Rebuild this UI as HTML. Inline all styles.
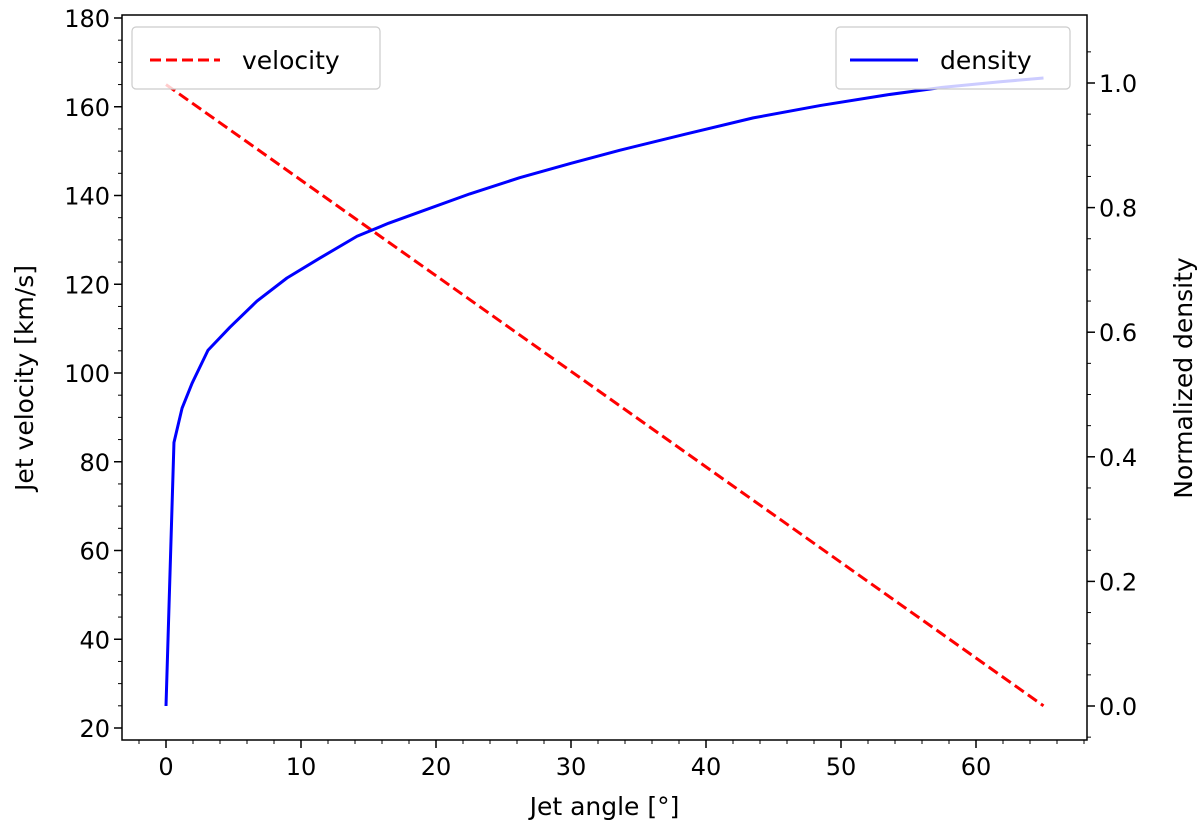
<!DOCTYPE html>
<html><head><meta charset="utf-8"><style>
html,body{margin:0;padding:0;background:#fff;}
svg{display:block;font-family:"DejaVu Sans","Liberation Sans",sans-serif;}
</style></head><body>
<svg id="chart" width="1200" height="830" viewBox="0 0 1200 830">
<g id="marks"></g>
<g id="axes"></g>
</svg>
<script>
const xTicks = [0,10,20,30,40,50,60];
const yLeftTicks = [20,40,60,80,100,120,140,160,180];
const yRightTicks = [0.0,0.2,0.4,0.6,0.8,1.0];
const velAngles = [0,65];
const velValues = [165,25];
const denAngles = [0,0.59,1.19,1.93,3.11,4.74,6.74,8.96,11.4,14.15,16.5,18.8,22.5,26.2,30,33.6,38.5,43.5,48.5,53.4,57.5,61.8,65];
const denValues = [0,0.423,0.478,0.518,0.571,0.608,0.650,0.687,0.719,0.754,0.775,0.793,0.822,0.848,0.871,0.892,0.918,0.944,0.964,0.981,0.993,1.002,1.008];

const L=122,R=1087,T=15,B=740;
const xs=v=>166+v*13.5;
const yl=v=>728-(v-20)*(728-18)/160;
const yr=v=>706-v*(706-83);
const NS="http://www.w3.org/2000/svg";
const marks=document.getElementById('marks');
const axes=document.getElementById('axes');
function mk(tag,attrs,parent){const e=document.createElementNS(NS,tag);for(const k in attrs)e.setAttribute(k,attrs[k]);parent.appendChild(e);return e;}

const vel=mk('polyline',{points:velAngles.map((a,i)=>xs(a)+','+yl(velValues[i])).join(' '),fill:'none',stroke:'#ff0000','stroke-width':3,'stroke-dasharray':'11,5'},marks);


const den=mk('polyline',{points:denAngles.map((a,i)=>xs(a)+','+yr(denValues[i])).join(' '),fill:'none',stroke:'#0000ff','stroke-width':3,'stroke-linejoin':'round'},marks);



const frame=mk('rect',{x:L,y:T,width:R-L,height:B-T,fill:'none',stroke:'#000','stroke-width':1.5},axes);



xTicks.forEach(t=>{
  mk('line',{x1:xs(t),x2:xs(t),y1:B,y2:B+8,stroke:'#000','stroke-width':1.5},axes);
  const tx=mk('text',{x:xs(t),y:B+35,'text-anchor':'middle','font-size':24},axes);
  tx.textContent=t;
  
  
});
for(let t=-2;t<=70;t+=2){ if(t%10 && xs(t)<R) mk('line',{x1:xs(t),x2:xs(t),y1:B,y2:B+4,stroke:'#000','stroke-width':1},axes); }
yLeftTicks.forEach(t=>{
  mk('line',{x1:L-8,x2:L,y1:yl(t),y2:yl(t),stroke:'#000','stroke-width':1.5},axes);
  const tx=mk('text',{x:L-12,y:yl(t)+9,'text-anchor':'end','font-size':24},axes);
  tx.textContent=t;
  
  
});
for(let t=25;t<=180;t+=5){ if(t%20) mk('line',{x1:L-4,x2:L,y1:yl(t),y2:yl(t),stroke:'#000','stroke-width':1},axes); }
yRightTicks.forEach(t=>{
  mk('line',{x1:R,x2:R+8,y1:yr(t),y2:yr(t),stroke:'#000','stroke-width':1.5},axes);
  const tx=mk('text',{x:R+12,y:yr(t)+9,'text-anchor':'start','font-size':24},axes);
  tx.textContent=t.toFixed(1);
  
  
});
for(let r=-5;r<=105;r+=5){ if(r%20) mk('line',{x1:R,x2:R+4,y1:yr(r/100),y2:yr(r/100),stroke:'#000','stroke-width':1},axes); }

const xt=mk('text',{x:(L+R)/2,y:815,'text-anchor':'middle','font-size':25},axes);
xt.textContent='Jet angle [°]';


const ylt=mk('text',{x:0,y:0,'text-anchor':'middle','font-size':25,transform:'translate(33,378) rotate(-90)'},axes);
ylt.textContent='Jet velocity [km/s]';


const yrt=mk('text',{x:0,y:0,'text-anchor':'middle','font-size':25,transform:'translate(1192,378) rotate(-90)'},axes);
yrt.textContent='Normalized density';



const lg1=mk('g',{},axes);


mk('rect',{x:132,y:27,width:248,height:62,rx:4,fill:'#fff','fill-opacity':0.8,stroke:'#ccc','stroke-width':1.2},lg1);
mk('line',{x1:150,x2:220,y1:60,y2:60,stroke:'#ff0000','stroke-width':3,'stroke-dasharray':'11,5'},lg1);
const l1=mk('text',{x:242,y:69,'font-size':25},lg1);l1.textContent='velocity';
const lg2=mk('g',{},axes);


mk('rect',{x:836,y:27,width:234,height:62,rx:4,fill:'#fff','fill-opacity':0.8,stroke:'#ccc','stroke-width':1.2},lg2);
mk('line',{x1:850,x2:918,y1:60,y2:60,stroke:'#0000ff','stroke-width':3},lg2);
const l2=mk('text',{x:940,y:69,'font-size':25},lg2);l2.textContent='density';
</script>
</body></html>
